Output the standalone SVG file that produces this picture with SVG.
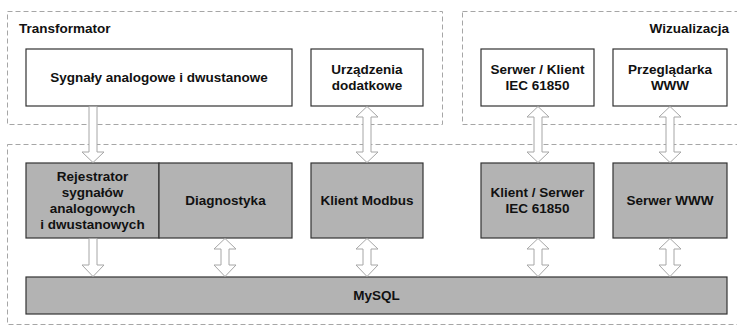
<svg xmlns="http://www.w3.org/2000/svg" width="737" height="327" viewBox="0 0 737 327">
<style>
.grp{fill:none;stroke:#a6a6a6;stroke-width:1;stroke-dasharray:5 3}
.wb{fill:#fff;stroke:#333;stroke-width:1.2}
.gb{fill:#b3b3b3;stroke:#333;stroke-width:1.2}
text{font-family:"Liberation Sans",Arial,sans-serif;font-weight:bold;font-size:13.5px;fill:#111}
.c{text-anchor:middle}
.ar{fill:#fff;stroke:#a6a6a6;stroke-width:1}
</style>
<rect width="737" height="327" fill="#fff"/>
<g id="group-transformator">
<rect class="grp" x="7.5" y="11.5" width="435" height="113"/>
<text x="19" y="33">Transformator</text>
</g>
<g id="group-wizualizacja">
<rect class="grp" x="462.5" y="11.5" width="290" height="113"/>
<text x="729" y="33" text-anchor="end">Wizualizacja</text>
</g>
<g id="group-system">
<rect class="grp" x="7.5" y="144.5" width="745" height="180"/>
</g>
<g id="sygnaly">
<rect class="wb" x="26" y="49" width="266" height="57"/>
<text class="c" x="159" y="82">Sygnały analogowe i dwustanowe</text>
</g>
<g id="urzadzenia">
<rect class="wb" x="311" y="49" width="112" height="57"/>
<text class="c" x="367" y="74">Urządzenia</text>
<text class="c" x="367" y="90">dodatkowe</text>
</g>
<g id="serwer-klient">
<rect class="wb" x="481" y="49" width="113" height="57"/>
<text class="c" x="537.5" y="74">Serwer / Klient</text>
<text class="c" x="537.5" y="90">IEC 61850</text>
</g>
<g id="przegladarka">
<rect class="wb" x="613" y="49" width="114" height="57"/>
<text class="c" x="670" y="74">Przeglądarka</text>
<text class="c" x="670" y="90">WWW</text>
</g>
<g id="rejestrator">
<rect class="gb" x="26" y="163" width="133" height="75"/>
<text class="c" x="92.5" y="181">Rejestrator</text>
<text class="c" x="92.5" y="197">sygnałów</text>
<text class="c" x="92.5" y="213">analogowych</text>
<text class="c" x="92.5" y="229">i dwustanowych</text>
</g>
<g id="diagnostyka">
<rect class="gb" x="159" y="163" width="133" height="75"/>
<text class="c" x="225.5" y="205">Diagnostyka</text>
</g>
<g id="klient-modbus">
<rect class="gb" x="311" y="163" width="112" height="75"/>
<text class="c" x="367" y="205">Klient Modbus</text>
</g>
<g id="klient-serwer">
<rect class="gb" x="481" y="163" width="113" height="75"/>
<text class="c" x="537.5" y="197">Klient / Serwer</text>
<text class="c" x="537.5" y="213">IEC 61850</text>
</g>
<g id="serwer-www">
<rect class="gb" x="613" y="163" width="114" height="75"/>
<text class="c" x="670" y="205">Serwer WWW</text>
</g>
<g id="mysql">
<rect class="gb" x="26" y="277" width="701" height="37"/>
<text class="c" x="376.5" y="300">MySQL</text>
</g>
<g id="connectors">
<path class="ar" d="M89 106.5 L97 106.5 L97 152 L104 152 L93 162.5 L82 152 L89 152 Z"/>
<path class="ar" d="M89 238.5 L97 238.5 L97 265 L104 265 L93 276.5 L82 265 L89 265 Z"/>
<path class="ar" d="M225 238.5 L236 249 L229 249 L229 265 L236 265 L225 276.5 L214 265 L221 265 L221 249 L214 249 Z"/>
<path class="ar" d="M367 106.5 L378 117 L371 117 L371 152 L378 152 L367 162.5 L356 152 L363 152 L363 117 L356 117 Z"/>
<path class="ar" d="M367 238.5 L378 249 L371 249 L371 265 L378 265 L367 276.5 L356 265 L363 265 L363 249 L356 249 Z"/>
<path class="ar" d="M538 106.5 L549 117 L542 117 L542 152 L549 152 L538 162.5 L527 152 L534 152 L534 117 L527 117 Z"/>
<path class="ar" d="M538 238.5 L549 249 L542 249 L542 265 L549 265 L538 276.5 L527 265 L534 265 L534 249 L527 249 Z"/>
<path class="ar" d="M670 106.5 L681 117 L674 117 L674 152 L681 152 L670 162.5 L659 152 L666 152 L666 117 L659 117 Z"/>
<path class="ar" d="M670 238.5 L681 249 L674 249 L674 265 L681 265 L670 276.5 L659 265 L666 265 L666 249 L659 249 Z"/>
</g>
</svg>
